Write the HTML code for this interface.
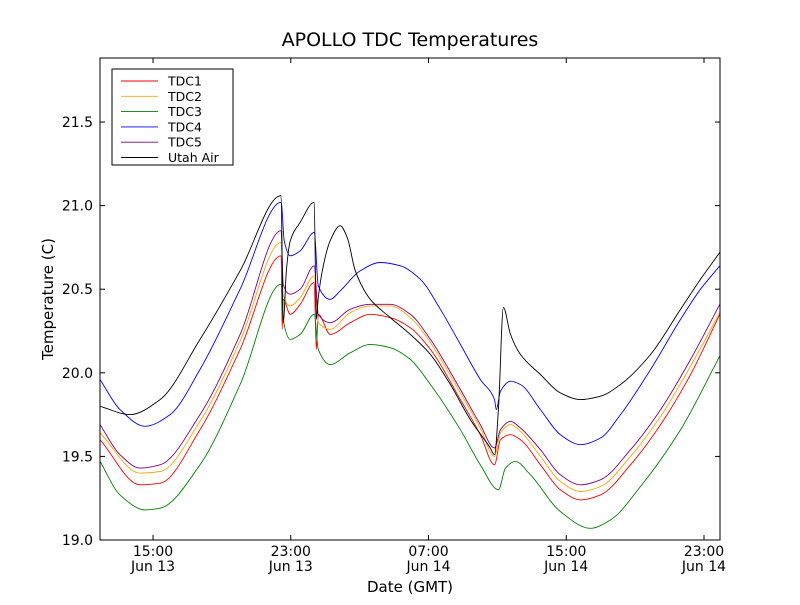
<!DOCTYPE html>
<html><head><meta charset="utf-8"><style>
body{margin:0;background:#fff}
svg{font-family:"DejaVu Sans","Liberation Sans",sans-serif}
</style></head><body>
<svg id="chart" width="800" height="600">
<rect width="800" height="600" fill="#fff"/>
<text x="410" y="46" font-size="19" text-anchor="middle">APOLLO TDC Temperatures</text>
<text x="410" y="592" font-size="15" text-anchor="middle">Date (GMT)</text>
<text transform="translate(53,299) rotate(-90)" font-size="15" text-anchor="middle">Temperature (C)</text>
<g id="plot"></g>
<rect x="100" y="58" width="620" height="482" fill="none" stroke="#000"/>
<g id="legend"></g>
</svg>
<script>
const xTicks=[15,23,31,39,47];
const xTickLabels=[["15:00","Jun 13"],["23:00","Jun 13"],["07:00","Jun 14"],["15:00","Jun 14"],["23:00","Jun 14"]];
const yTicks=[19.0,19.5,20.0,20.5,21.0,21.5];
const seriesNames=["TDC1","TDC2","TDC3","TDC4","TDC5","Utah Air"];
const seriesColors=["red","orange","green","blue","purple","black"];
// hours since Jun 13 00:00
const tRed=[11.92,14.25,15.41,17.73,20.06,22.44,22.5,22.56,22.97,23.55,24.36,24.48,24.6,25.29,26.45,27.62,28.78,29.94,31.11,32.85,34.01,34.83,35.18,35.76,36.34,37.5,38.66,39.83,40.99,42.73,44.48,46.22,47.92];
const vRed=[19.60,19.33,19.34,19.66,20.14,20.70,20.26,20.44,20.35,20.41,20.54,20.14,20.35,20.23,20.30,20.35,20.33,20.27,20.14,19.84,19.63,19.45,19.60,19.63,19.60,19.45,19.30,19.24,19.27,19.45,19.69,19.99,20.35];
const tOrange=[11.92,14.25,15.41,17.73,20.06,22.44,22.56,22.97,23.55,24.36,24.6,25.29,26.45,27.62,28.78,29.94,31.11,32.85,34.01,34.83,35.18,35.76,36.34,37.5,38.66,39.83,40.99,42.73,44.48,46.22,47.92];
const vOrange=[19.64,19.40,19.41,19.71,20.19,20.78,20.47,20.40,20.45,20.58,20.30,20.26,20.36,20.40,20.40,20.33,20.18,19.88,19.67,19.50,19.64,19.69,19.65,19.50,19.35,19.29,19.32,19.50,19.74,20.04,20.36];
const tGreen=[11.92,13.08,14.54,15.41,17.73,20.06,22.44,22.56,22.97,23.55,24.36,24.6,25.29,26.45,27.62,28.78,29.94,31.11,32.85,34.01,35.06,35.47,36.05,36.92,38.66,40.41,41.57,43.31,45.64,47.92];
const vGreen=[19.47,19.27,19.18,19.19,19.45,19.93,20.53,20.32,20.20,20.23,20.35,20.14,20.05,20.12,20.17,20.15,20.08,19.93,19.66,19.45,19.30,19.43,19.47,19.39,19.17,19.07,19.12,19.32,19.66,20.10];
const tBlue=[11.92,13.08,14.54,15.99,17.73,20.06,22.44,22.62,22.97,23.55,24.36,24.6,25.29,25.87,27.04,28.2,29.36,30.52,31.69,32.85,34.01,34.83,34.94,35.18,35.76,36.34,37.5,38.66,39.83,40.99,42.15,43.9,45.64,46.8,47.92];
const vBlue=[19.96,19.78,19.68,19.75,20.02,20.50,21.02,20.79,20.70,20.73,20.84,20.52,20.44,20.49,20.61,20.66,20.64,20.56,20.38,20.17,19.96,19.84,19.78,19.89,19.95,19.93,19.78,19.63,19.57,19.61,19.75,20.02,20.32,20.50,20.64];
const tPurple=[11.92,13.08,14.25,15.41,17.73,20.06,22.44,22.56,22.97,23.55,24.36,24.6,25.29,26.45,27.62,28.78,29.94,31.11,32.85,34.01,34.83,35.18,35.76,36.34,37.5,38.66,39.83,40.99,42.73,44.48,46.22,47.92];
const vPurple=[19.69,19.51,19.43,19.45,19.75,20.23,20.85,20.53,20.47,20.50,20.64,20.35,20.30,20.38,20.41,20.41,20.35,20.20,19.90,19.69,19.55,19.66,19.71,19.67,19.54,19.39,19.33,19.36,19.54,19.78,20.08,20.41];
const tAir=[11.92,13.66,15.41,17.73,20.06,22.44,22.56,22.75,22.97,23.55,24.36,24.48,24.6,24.83,25.29,25.87,26.28,26.75,27.62,28.78,29.94,31.11,32.27,33.43,34.59,34.83,35.06,35.35,35.76,36.34,37.5,38.66,39.83,40.99,42.15,43.9,45.64,46.8,47.92];
const vAir=[19.80,19.75,19.84,20.20,20.61,21.06,20.30,20.62,20.79,20.90,21.02,20.32,20.45,20.61,20.79,20.88,20.81,20.61,20.44,20.33,20.23,20.11,19.93,19.72,19.55,19.51,19.78,20.39,20.23,20.11,19.99,19.88,19.84,19.86,19.93,20.11,20.38,20.56,20.72];
const seriesT=[tRed,tOrange,tGreen,tBlue,tPurple,tAir];
const seriesV=[vRed,vOrange,vGreen,vBlue,vPurple,vAir];

const X0=100,X1=720,Y0=540,Y1=58,xMin=11.92,xMax=47.93,yMin=19.0,yMax=21.883;
const xs=h=>X0+(h-xMin)/(xMax-xMin)*(X1-X0);
const ys=v=>Y0-(v-yMin)/(yMax-yMin)*(Y0-Y1);
const NS="http://www.w3.org/2000/svg";
const svg=document.getElementById('chart');
const plot=document.getElementById('plot');
function mk(tag,attrs,parent){const e=document.createElementNS(NS,tag);for(const k in attrs)e.setAttribute(k,attrs[k]);parent.appendChild(e);return e;}

function monoPath(px,py){
  const n=px.length,d=[],m=new Array(n).fill(0);
  for(let i=0;i<n-1;i++)d.push((py[i+1]-py[i])/(px[i+1]-px[i]));
  m[0]=d[0];m[n-1]=d[n-2];
  for(let i=1;i<n-1;i++){
    if(d[i-1]*d[i]<=0)m[i]=0;
    else{const w1=2*(px[i+1]-px[i])+(px[i]-px[i-1]),w2=(px[i+1]-px[i])+2*(px[i]-px[i-1]);m[i]=(w1+w2)/(w1/d[i-1]+w2/d[i]);}
  }
  let s='M'+px[0].toFixed(1)+','+py[0].toFixed(1);
  for(let i=0;i<n-1;i++){
    const h=(px[i+1]-px[i])/3;
    s+='C'+(px[i]+h).toFixed(1)+','+(py[i]+m[i]*h).toFixed(1)+' '+(px[i+1]-h).toFixed(1)+','+(py[i+1]-m[i+1]*h).toFixed(1)+' '+px[i+1].toFixed(1)+','+py[i+1].toFixed(1);
  }
  return s;
}

xTicks.forEach((h,i)=>{
  const x=xs(h);
  const t1=mk('line',{x1:x,x2:x,y1:Y0,y2:Y0-5,stroke:'#000'},svg);
  
  
  const t2=mk('line',{x1:x,x2:x,y1:Y1,y2:Y1+5,stroke:'#000'},svg);
  
  
  const l=mk('text',{x:x,y:556,'font-size':14,'text-anchor':'middle'},svg);
  l.textContent=xTickLabels[i][0];
  
  
  const l2=mk('text',{x:x,y:571,'font-size':14,'text-anchor':'middle'},svg);
  l2.textContent=xTickLabels[i][1];
  
  
});
yTicks.forEach(v=>{
  const y=ys(v);
  const t1=mk('line',{x1:X0,x2:X0+5,y1:y,y2:y,stroke:'#000'},svg);
  
  
  const t2=mk('line',{x1:X1,x2:X1-5,y1:y,y2:y,stroke:'#000'},svg);
  
  
  const l=mk('text',{x:X0-7,y:y+5,'font-size':14,'text-anchor':'end'},svg);
  l.textContent=v.toFixed(1);
  
  
});
seriesNames.forEach((n,i)=>{
  const px=seriesT[i].map(xs),py=seriesV[i].map(ys);
  const p=mk('path',{d:monoPath(px,py),fill:'none',stroke:seriesColors[i],'stroke-width':0.9},plot);
  
  
});
const lg=document.getElementById('legend');
mk('rect',{x:112,y:69,width:121,height:96,fill:'#fff',stroke:'#000'},lg);
seriesNames.forEach((n,i)=>{
  const y=81+i*15.3;
  const ln=mk('line',{x1:121,x2:158,y1:y,y2:y,stroke:seriesColors[i],'stroke-width':0.9},lg);
  
  
  const t=mk('text',{x:168,y:y+4.5,'font-size':12.5},lg);
  t.textContent=n;
  
  
});
</script>
</body></html>
